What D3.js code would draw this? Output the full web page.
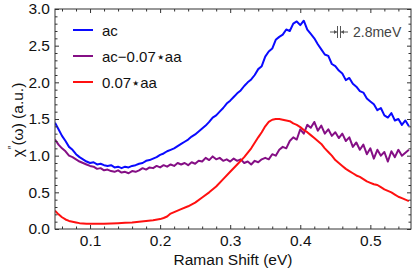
<!DOCTYPE html>
<html>
<head>
<meta charset="utf-8">
<script src="https://cdn.jsdelivr.net/npm/d3@7"></script>
<style>
  body { margin: 0; background: #fff; }
  svg text { font-family: "Liberation Sans", Arial, sans-serif; }
</style>
</head>
<body>
<svg width="416" height="274"></svg>
<script>
// Raman shift grid (eV) for ac and ac-0.07*aa
const energy = [0.050,0.055,0.060,0.065,0.070,0.075,0.080,0.085,0.090,0.095,
  0.100,0.105,0.110,0.115,0.120,0.125,0.130,0.135,0.140,0.145,
  0.150,0.155,0.160,0.165,0.170,0.175,0.180,0.185,0.190,0.195,
  0.200,0.205,0.210,0.215,0.220,0.225,0.230,0.235,0.240,0.245,
  0.250,0.255,0.260,0.265,0.270,0.275,0.280,0.285,0.290,0.295,
  0.300,0.305,0.310,0.315,0.320,0.325,0.330,0.335,0.340,0.345,
  0.350,0.355,0.360,0.365,0.370,0.375,0.380,0.385,0.390,0.395,
  0.400,0.405,0.410,0.415,0.420,0.425,0.430,0.435,0.440,0.445,
  0.450,0.455,0.460,0.465,0.470,0.475,0.480,0.485,0.490,0.495,
  0.500,0.505,0.510,0.515,0.520,0.525,0.530,0.535,0.540,0.545,
  0.550,0.555]

const acValues = [1.45,1.36,1.27,1.20,1.12,1.08,1.02,0.98,0.95,0.92,
  0.90,0.91,0.88,0.89,0.87,0.86,0.87,0.84,0.85,0.83,
  0.85,0.84,0.86,0.87,0.89,0.90,0.93,0.94,0.96,0.98,
  1.01,1.03,1.06,1.08,1.10,1.13,1.16,1.19,1.22,1.26,
  1.29,1.33,1.37,1.41,1.46,1.52,1.55,1.60,1.65,1.71,
  1.75,1.80,1.85,1.89,1.95,2.00,2.04,2.10,2.18,2.22,
  2.35,2.42,2.46,2.58,2.62,2.65,2.72,2.70,2.80,2.83,
  2.78,2.84,2.72,2.66,2.60,2.52,2.45,2.38,2.36,2.25,
  2.22,2.16,2.12,2.03,2.06,1.98,1.94,1.88,1.86,1.78,
  1.74,1.70,1.62,1.65,1.55,1.52,1.58,1.48,1.50,1.42,
  1.48,1.40]

const diffValues = [1.22,1.15,1.10,1.06,1.00,0.98,0.95,0.92,0.90,0.88,
  0.86,0.85,0.82,0.83,0.80,0.81,0.79,0.78,0.80,0.77,
  0.78,0.76,0.79,0.78,0.80,0.83,0.81,0.84,0.83,0.86,
  0.84,0.87,0.85,0.88,0.86,0.90,0.88,0.90,0.87,0.91,
  0.89,0.93,0.92,0.97,0.94,0.99,0.95,0.97,0.93,0.95,
  0.92,0.96,0.93,0.95,0.90,0.92,0.88,0.93,0.91,0.95,
  0.97,0.95,1.02,1.00,1.08,1.12,1.10,1.20,1.25,1.22,
  1.36,1.30,1.42,1.38,1.46,1.34,1.41,1.30,1.36,1.27,
  1.32,1.24,1.30,1.20,1.25,1.12,1.18,1.08,1.15,1.02,
  1.10,0.96,1.08,1.00,1.05,0.92,1.06,0.98,1.08,1.00,
  1.04,1.08]

// 0.07*aa is smoother, own grid
const aaEnergy = [0.050,0.055,0.060,0.065,0.070,0.075,0.080,0.085,0.090,0.095,
  0.100,0.110,0.120,0.130,0.140,0.150,0.160,0.170,0.180,0.190,
  0.200,0.205,0.210,0.215,0.220,0.225,0.230,0.240,0.250,0.260,
  0.270,0.280,0.290,0.300,0.310,0.320,0.330,0.340,0.345,0.350,
  0.355,0.360,0.365,0.370,0.375,0.380,0.385,0.390,0.395,0.400,
  0.405,0.410,0.415,0.420,0.425,0.430,0.435,0.440,0.445,0.450,
  0.455,0.460,0.465,0.470,0.475,0.480,0.485,0.490,0.495,0.500,
  0.505,0.510,0.515,0.520,0.525,0.530,0.535,0.540,0.545,0.550,
  0.555]

const aaValues = [0.25,0.20,0.16,0.13,0.11,0.10,0.09,0.08,0.075,0.07,
  0.07,0.07,0.07,0.075,0.08,0.085,0.09,0.10,0.11,0.12,
  0.135,0.15,0.17,0.21,0.23,0.25,0.27,0.31,0.36,0.43,
  0.50,0.58,0.68,0.78,0.88,0.98,1.10,1.25,1.32,1.40,
  1.46,1.49,1.50,1.50,1.49,1.48,1.47,1.44,1.42,1.39,
  1.35,1.32,1.28,1.24,1.20,1.16,1.10,1.05,1.00,0.94,
  0.90,0.86,0.82,0.79,0.76,0.73,0.71,0.68,0.65,0.63,
  0.61,0.60,0.57,0.54,0.52,0.50,0.47,0.44,0.42,0.40,
  0.38]

const seriesNames = ['ac', 'ac\u22120.07\u22c6aa', '0.07\u22c6aa']
const seriesColors = ['#0a0aff', '#850f85', '#ff1010']
const xTicks = [0.1, 0.2, 0.3, 0.4, 0.5]
const yTicks = [0.0, 0.5, 1.0, 1.5, 2.0, 2.5, 3.0]

const svg = d3.select('svg')
const margin = {top: 9, right: 5, bottom: 45, left: 55},
      width = 416 - margin.left - margin.right,
      height = 274 - margin.top - margin.bottom

const x = d3.scaleLinear().domain([0.05, 0.558]).range([0, width])
const y = d3.scaleLinear().domain([0, 3]).range([height, 0])

const g = svg.append('g').attr('transform', `translate(${margin.left},${margin.top})`)

const series = [
  energy.map((e, i) => [e, acValues[i]]),
  energy.map((e, i) => [e, diffValues[i]]),
  aaEnergy.map((e, i) => [e, aaValues[i]])
]

g.append('defs').append('clipPath').attr('id', 'clip')
  .append('rect').attr('width', width).attr('height', height)

const line = d3.line().x(d => x(d[0])).y(d => y(d[1]))

// ac drawn last so it sits on top
const order = [1, 2, 0]
order.forEach(i => {
  g.append('path')
    .datum(series[i])
    .attr('clip-path', 'url(#clip)')
    .attr('fill', 'none')
    .attr('stroke', seriesColors[i])
    .attr('stroke-width', 2)
    .attr('stroke-linejoin', 'round')
    .attr('d', line)
})

// axes with inward ticks, Mathematica style
const minorX = d3.range(0.06, 0.558, 0.02).filter(v => Math.abs(v * 10 - Math.round(v * 10)) > 0.01)
const minorY = d3.range(0.1, 3.0, 0.1).filter(v => Math.abs(v * 2 - Math.round(v * 2)) > 0.01)

const frameColor = '#333'

const axBottom = g.append('g').attr('transform', `translate(0,${height})`)
  .call(d3.axisBottom(x).tickValues(xTicks).tickSize(-4).tickPadding(6).tickFormat(d3.format('.1f')))
axBottom.append('g').call(d3.axisBottom(x).tickValues(minorX).tickSize(-2.5).tickFormat(''))

const axTop = g.append('g')
  .call(d3.axisTop(x).tickValues(xTicks).tickSize(-4).tickFormat(''))
axTop.append('g').call(d3.axisTop(x).tickValues(minorX).tickSize(-2.5).tickFormat(''))

const axLeft = g.append('g')
  .call(d3.axisLeft(y).tickValues(yTicks).tickSize(-4).tickPadding(5).tickFormat(d3.format('.1f')))
axLeft.append('g').call(d3.axisLeft(y).tickValues(minorY).tickSize(-2.5).tickFormat(''))

const axRight = g.append('g').attr('transform', `translate(${width},0)`)
  .call(d3.axisRight(y).tickValues(yTicks).tickSize(-4).tickFormat(''))
axRight.append('g').call(d3.axisRight(y).tickValues(minorY).tickSize(-2.5).tickFormat(''))

g.selectAll('.domain').remove()
g.selectAll('.tick line').attr('stroke', frameColor)
g.selectAll('.tick text').attr('fill', '#111').style('font-size', '15.5px')

g.append('rect')
  .attr('width', width).attr('height', height)
  .attr('fill', 'none').attr('stroke', frameColor).attr('stroke-width', 1)

// axis titles
svg.append('text')
  .attr('x', 233).attr('y', 265)
  .attr('text-anchor', 'middle').attr('fill', '#111')
  .style('font-size', '15.5px')
  .text('Raman Shift (eV)')

const yt = svg.append('text')
  .attr('transform', `translate(23,120) rotate(-90)`)
  .attr('text-anchor', 'middle').attr('fill', '#111')
  .style('font-size', '15.5px')
yt.append('tspan').text('\u03c7')
yt.append('tspan').attr('dy', -7).style('font-size', '10px').text('\u2033')
yt.append('tspan').attr('dy', 7).text('(\u03c9) (a.u.)')

// legend
const legend = g.append('g').attr('transform', 'translate(18,21)')
seriesNames.forEach((name, i) => {
  const row = legend.append('g').attr('transform', `translate(0,${i * 26})`)
  row.append('line').attr('x1', 0).attr('x2', 20)
    .attr('stroke', seriesColors[i]).attr('stroke-width', 2)
  row.append('text').attr('x', 29).attr('y', 5.5)
    .attr('fill', '#111').style('font-size', '15px').text(name)
})

// resolution marker
const res = svg.append('g').attr('transform', 'translate(339,32)').attr('stroke', '#555').attr('fill', '#555')
res.append('line').attr('x1', -1.5).attr('x2', -1.5).attr('y1', -6).attr('y2', 6)
res.append('line').attr('x1', 1.5).attr('x2', 1.5).attr('y1', -6).attr('y2', 6)
res.append('line').attr('x1', -9).attr('x2', -2).attr('y1', 0).attr('y2', 0)
res.append('line').attr('x1', 2).attr('x2', 9).attr('y1', 0).attr('y2', 0)
res.append('path').attr('d', 'M-2,0 L-5,-2 L-5,2 Z').attr('stroke', 'none')
res.append('path').attr('d', 'M2,0 L5,-2 L5,2 Z').attr('stroke', 'none')
svg.append('text').attr('x', 353).attr('y', 37)
  .attr('fill', '#444').style('font-size', '14px').text('2.8meV')
</script>
</body>
</html>
